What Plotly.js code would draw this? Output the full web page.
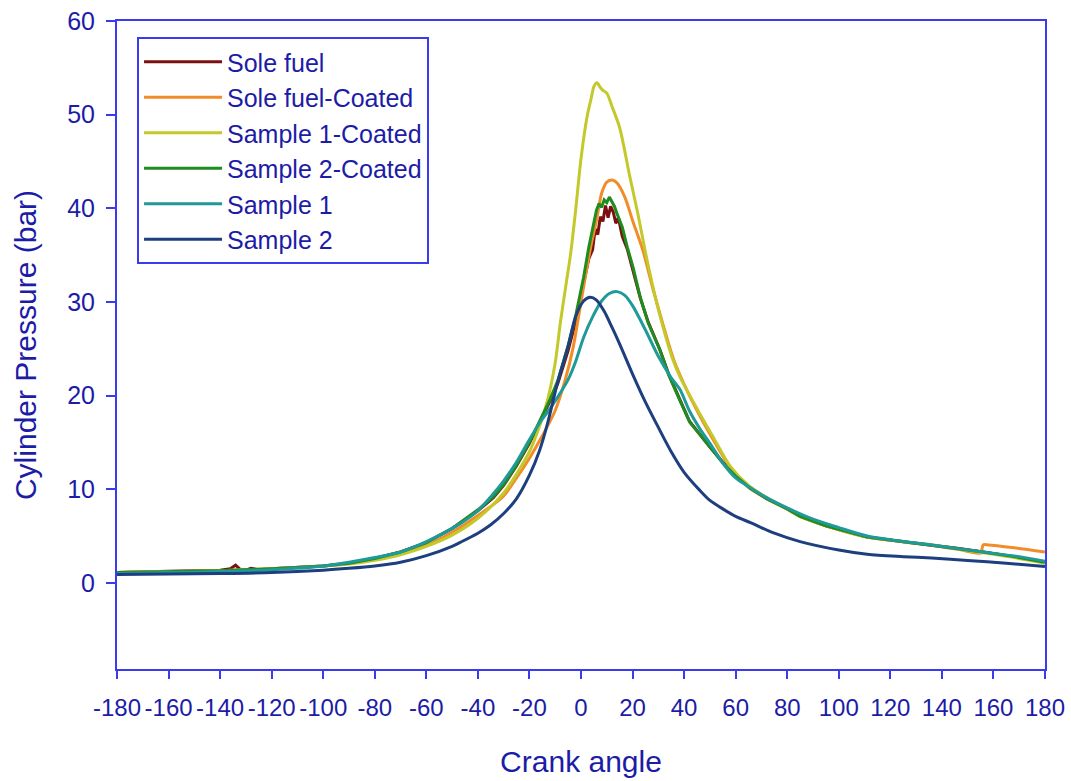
<!DOCTYPE html>
<html>
<head>
<meta charset="utf-8">
<script src="https://cdn.plot.ly/plotly-3.0.1.min.js"></script>
<style>
  html, body { margin: 0; padding: 0; background: #fff; }
  #chart { width: 1071px; height: 781px; }
</style>
</head>
<body>
<div id="chart"></div>
<script>
// Cylinder pressure vs crank angle for the six fuel / coating cases

const seriesNames = ["Sole fuel", "Sole fuel-Coated", "Sample 1-Coated", "Sample 2-Coated", "Sample 1", "Sample 2"];
const seriesColors = ["#7a1010", "#f28c28", "#c4c82a", "#1f8c1f", "#1f9a98", "#1d3f80"];

// Sole fuel
const angleSole = [-180,-170,-160,-150,-140,-136,-134,-132,-130,-128,-125,-120,-100,-90,-80,-70,-60,-50,-40,-34,-30,-25,-20,-16,-12,-9,-5,-2,1,3,4.5,5.5,6.5,7.5,8.5,9.5,10.5,11.5,12.5,13.5,14.5,16,18,20,23,26,30.6,34,38,42,46,50,55,60,66,72,80,85,95,111,125,136.5,146,156,168,180];
const pressSole = [1.1,1.2,1.25,1.3,1.35,1.5,1.9,1.4,1.35,1.55,1.4,1.5,1.8,2.1,2.6,3.3,4.3,5.8,7.7,9.1,10.4,12.5,14.9,17.2,19.4,21.3,24.8,28.0,31.8,34.6,35.6,37.8,37.2,39.1,38.6,40.3,39.0,40.2,39.6,38.4,39.0,37.0,35.6,33.4,30.4,27.9,24.9,22.3,19.8,17.3,15.9,14.5,12.9,11.4,10.1,9.0,7.9,7.1,6.1,4.9,4.4,4.05,3.7,3.3,2.8,2.2];

// Sole fuel, coated
const angleSoleCoated = [-180,-160,-140,-120,-100,-90,-80,-70,-60,-50,-40,-30.3,-25,-20,-15,-10,-6,-3,0,3.5,6.2,8,10,12.4,14,17,20,24,28,32,36,40,45,50,58,65,72,80,85,95,111,125,136.5,146,155,156,158,168,180];
const pressSoleCoated = [1.1,1.2,1.3,1.5,1.8,2.1,2.5,3.1,4.0,5.4,7.2,9.2,11.2,13.3,15.7,18.4,21.8,25.2,30.0,35.5,39.0,41.6,42.8,43.0,42.7,41.2,38.7,35.5,31.3,27.4,23.8,21.2,18.4,15.9,12.3,10.2,9.0,7.9,7.1,6.1,4.9,4.4,4.0,3.6,3.2,4.05,4.05,3.75,3.3];

// Sample 1, coated
const angleS1Coated = [-180,-160,-140,-120,-100,-90,-80,-70,-60,-50,-40,-30,-20,-16,-13,-10,-8,-6,-4,-2,0,2.3,4,5,6.2,7.5,8.5,10,12,15,19,22,25.6,30,35.7,38.4,45,51.2,58,65,72,80,85,95,111,125,136.5,146,156,168,180];
const pressS1Coated = [1.1,1.2,1.3,1.5,1.8,2.0,2.4,3.0,3.9,5.1,6.9,9.6,14.0,16.8,19.5,23.5,27.8,31.5,35.2,40.0,45.3,49.7,51.8,53.0,53.4,52.9,52.6,52.3,50.9,48.6,43.3,39.5,34.5,29.2,23.8,22.0,18.6,15.6,12.4,10.4,9.1,7.9,7.1,6.1,4.9,4.4,4.05,3.6,3.2,2.7,2.1];

// Sample 2, coated
const angleS2Coated = [-180,-160,-140,-120,-100,-90,-80,-70,-60,-50,-40,-34,-30,-25,-20,-16,-12,-9,-5,-2,1,3,5,6,7,8,9,10,11,12,13,14,16,18,20.2,23,26,30.6,34,38,42.3,46,50,55,60,65.6,72,80,85,95,111,125,136.5,146,156,168,180];
const pressS2Coated = [1.1,1.2,1.3,1.5,1.8,2.1,2.6,3.3,4.3,5.8,7.8,9.2,10.5,12.6,15.0,17.3,19.6,21.6,25.3,28.6,32.6,35.8,38.6,39.8,40.5,40.1,40.9,40.6,41.2,40.7,40.2,39.4,38.0,35.8,33.7,30.5,27.8,24.9,22.2,19.7,17.1,15.9,14.5,12.8,11.4,10.1,9.0,7.9,7.1,6.1,4.9,4.4,4.05,3.7,3.3,2.8,2.2];

// Sample 1
const angleS1 = [-180,-160,-140,-120,-100,-90,-80,-70,-60,-47,-40,-35,-30,-25,-20,-16,-12,-8,-5,-2,1,4.5,8,11,14,17,20,25,30,35,38.5,42,46,50,55,60,66,72,80,90,100,111,120,136,156,170,180];
const pressS1 = [1.0,1.1,1.2,1.4,1.8,2.2,2.7,3.3,4.4,6.3,7.7,9.2,10.9,12.9,15.3,17.1,18.6,20.3,21.7,23.7,26.2,28.4,30.1,30.9,31.1,30.7,29.6,27.0,24.2,21.9,20.6,18.4,16.5,14.9,12.8,11.2,10.1,9.1,8.0,6.8,5.9,5.0,4.6,4.05,3.3,2.8,2.3];

// Sample 2
const angleS2 = [-180,-160,-140,-120,-100,-90,-80,-70,-60,-50,-47,-40,-35,-30,-25,-20,-16,-13,-9,-5,-2,1,3.5,6,9,12,15,20,25,30,35,40,46,50,55,60,66,75,85,100,111,125,136,150,165,180];
const pressS2 = [0.9,0.95,1.0,1.1,1.35,1.55,1.8,2.2,2.9,3.9,4.3,5.3,6.2,7.4,9.0,11.5,14.2,17.0,21.5,25.3,28.5,30.1,30.5,30.2,29.0,27.3,25.5,22.3,19.3,16.6,14.0,11.8,9.9,8.8,7.9,7.1,6.4,5.3,4.4,3.5,3.05,2.8,2.65,2.4,2.1,1.75];

const xTickVals = [-180,-160,-140,-120,-100,-80,-60,-40,-20,0,20,40,60,80,100,120,140,160,180];
const yTickVals = [0,10,20,30,40,50,60];

const angles = [angleSole, angleSoleCoated, angleS1Coated, angleS2Coated, angleS1, angleS2];
const pressures = [pressSole, pressSoleCoated, pressS1Coated, pressS2Coated, pressS1, pressS2];
const jagged = [true, false, false, true, false, false];

const traces = seriesNames.map((name, i) => ({
  type: "scatter",
  mode: "lines",
  name: name,
  x: angles[i],
  y: pressures[i],
  line: {
    color: seriesColors[i],
    width: 3,
    shape: jagged[i] ? "linear" : "spline",
    smoothing: 0.8
  }
}));

const textBlue = "#1c1ca6";
const axisBlue = "#3a3af0";
const fontFamily = "Liberation Sans, Arial, Helvetica, sans-serif";

const layout = {
  width: 1071,
  height: 781,
  margin: { l: 117, r: 26, t: 21, b: 112 },
  paper_bgcolor: "#ffffff",
  plot_bgcolor: "#ffffff",
  font: { family: fontFamily, color: textBlue, size: 25 },
  showlegend: true,
  legend: {
    x: 0.0216, y: 0.9753, xanchor: "left", yanchor: "top",
    bgcolor: "#ffffff",
    bordercolor: axisBlue,
    borderwidth: 2,
    itemwidth: 78,
    font: { family: fontFamily, size: 25, color: textBlue },
    tracegroupgap: 0
  },
  xaxis: {
    range: [-180, 180],
    tickvals: xTickVals,
    ticktext: xTickVals.map(String),
    tickangle: 0,
    ticks: "outside",
    ticklen: 8,
    tickwidth: 2,
    tickcolor: axisBlue,
    ticklabelstandoff: 8,
    showline: true,
    linecolor: axisBlue,
    linewidth: 2,
    mirror: true,
    showgrid: false,
    zeroline: false,
    tickfont: { family: fontFamily, size: 24, color: textBlue },
    title: { text: "Crank angle", font: { family: fontFamily, size: 30, color: textBlue }, standoff: 31 }
  },
  yaxis: {
    range: [-9.2, 60],
    tickvals: yTickVals,
    ticks: "outside",
    ticklen: 9,
    tickwidth: 2,
    tickcolor: axisBlue,
    ticklabelstandoff: 6,
    showline: true,
    linecolor: axisBlue,
    linewidth: 2,
    mirror: true,
    showgrid: false,
    zeroline: false,
    tickfont: { family: fontFamily, size: 25, color: textBlue },
    title: { text: "Cylinder Pressure (bar)", font: { family: fontFamily, size: 30, color: textBlue }, standoff: 22 }
  }
};

Plotly.newPlot("chart", traces, layout, { displayModeBar: false, staticPlot: true });
</script>
</body>
</html>
